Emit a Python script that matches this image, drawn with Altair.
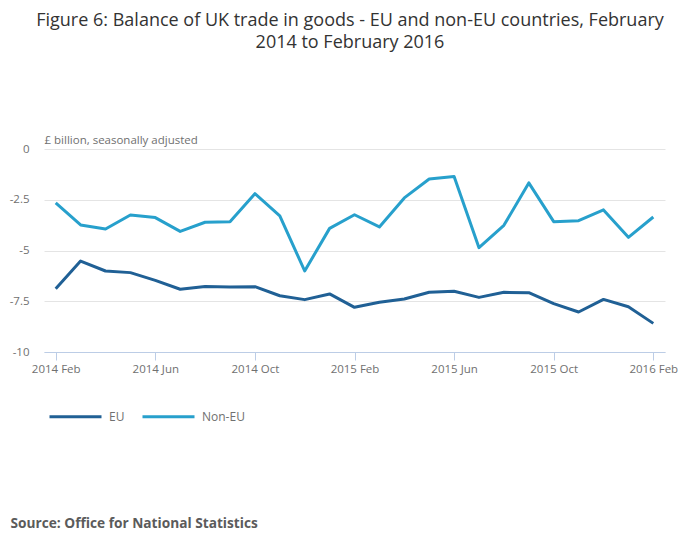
import altair as alt
import pandas as pd

# ---- data ----
months = [
    "2014 Feb", "2014 Mar", "2014 Apr", "2014 May", "2014 Jun", "2014 Jul",
    "2014 Aug", "2014 Sep", "2014 Oct", "2014 Nov", "2014 Dec", "2015 Jan",
    "2015 Feb", "2015 Mar", "2015 Apr", "2015 May", "2015 Jun", "2015 Jul",
    "2015 Aug", "2015 Sep", "2015 Oct", "2015 Nov", "2015 Dec", "2016 Jan",
    "2016 Feb",
]
eu = [-6.88, -5.52, -6.01, -6.09, -6.47, -6.91, -6.77, -6.80, -6.78, -7.23,
      -7.42, -7.14, -7.80, -7.55, -7.39, -7.06, -7.01, -7.31, -7.06, -7.08,
      -7.62, -8.03, -7.41, -7.77, -8.59]
non_eu = [-2.66, -3.74, -3.94, -3.25, -3.38, -4.06, -3.61, -3.58, -2.20, -3.29,
          -6.01, -3.91, -3.24, -3.84, -2.41, -1.48, -1.36, -4.86, -3.76, -1.67,
          -3.58, -3.53, -3.00, -4.35, -3.35]
series_names = ["EU", "Non-EU"]
series_colors = ["#206095", "#27a0cc"]
x_tick_labels = ["2014 Feb", "2014 Jun", "2014 Oct", "2015 Feb", "2015 Jun",
                 "2015 Oct", "2016 Feb"]
y_ticks = [0, -2.5, -5, -7.5, -10]

df = pd.concat([
    pd.DataFrame({"month": months, "value": eu, "series": "EU"}),
    pd.DataFrame({"month": months, "value": non_eu, "series": "Non-EU"}),
])

FONT = "Open Sans"
GREY = "#707070"

chart = alt.Chart(df).mark_line(strokeWidth=3, strokeJoin="round").encode(
    x=alt.X(
        "month:N",
        sort=months,
        scale=alt.Scale(type="point", padding=0.47),
        axis=alt.Axis(
            values=x_tick_labels,
            labelAngle=0,
            labelFont=FONT,
            labelFontSize=11.5,
            labelColor=GREY,
            labelPadding=3,
            tickSize=8,
            tickColor="#bccde6",
            domainColor="#bccde6",
            grid=False,
            zindex=1,
            title="Source: Office for National Statistics",
            titleFont=FONT,
            titleFontSize=13.7,
            titleFontWeight="bold",
            titleColor="#5b5b5b",
            titleAnchor="start",
            titleAlign="left",
            titleBaseline="alphabetic",
            titleX=-34,
            titleY=175,
        ),
    ),
    y=alt.Y(
        "value:Q",
        scale=alt.Scale(domain=[-10, 0], nice=False, zero=False),
        axis=alt.Axis(
            values=y_ticks,
            labelExpr="toString(datum.value)",
            labelFont=FONT,
            labelFontSize=11.5,
            labelColor=GREY,
            labelPadding=15,
            ticks=False,
            tickSize=0,
            domain=False,
            grid=True,
            gridColor="#e4e4e4",
            title="£ billion, seasonally adjusted",
            titleFont=FONT,
            titleFontSize=11.5,
            titleFontWeight="normal",
            titleColor=GREY,
            titleAngle=0,
            titleAlign="left",
            titleBaseline="alphabetic",
            titleX=0,
            titleY=-6,
        ),
    ),
    color=alt.Color(
        "series:N",
        scale=alt.Scale(domain=series_names, range=series_colors),
        legend=alt.Legend(
            title=None,
            orient="none",
            direction="horizontal",
            legendX=4,
            legendY=240,
            symbolType="stroke",
            symbolSize=2704,
            symbolStrokeWidth=3,
            labelFont=FONT,
            labelFontSize=12,
            labelColor=GREY,
            labelOffset=6,
            columnPadding=11,
            padding=0,
        ),
    ),
).properties(
    width=621,
    height=203,
    autosize=alt.AutoSizeParams(type="none"),
    padding={"left": 36, "top": 141, "right": 27, "bottom": 189},
    title=alt.TitleParams(
        text=[
            "Figure 6: Balance of UK trade in goods - EU and non-EU countries, February",
            "2014 to February 2016",
        ],
        font=FONT,
        fontSize=18,
        fontWeight="normal",
        color="#333333",
        lineHeight=22,
        anchor="middle",
        frame="group",
        dx=-4.5,
        offset=82,
    ),
).configure_view(stroke=None)

chart.save("out.html", embed_options={"renderer": "svg", "actions": False})
